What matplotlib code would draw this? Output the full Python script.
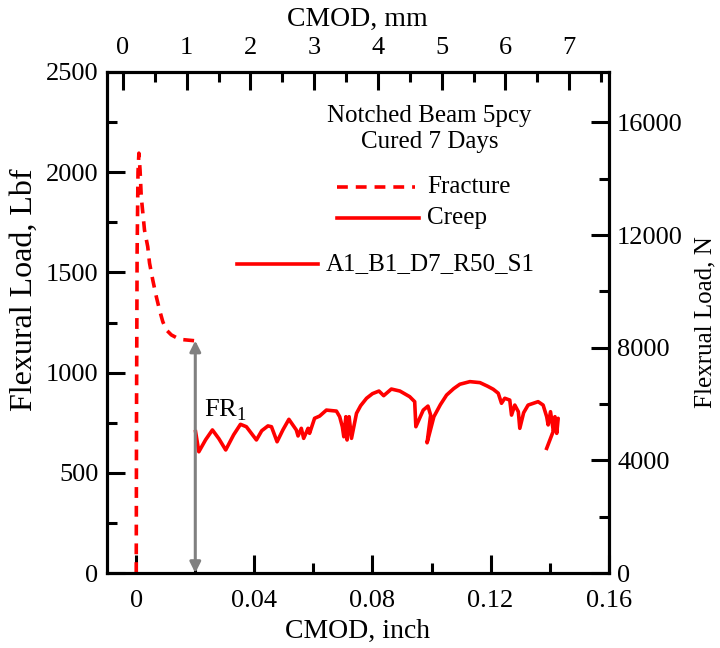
import matplotlib
matplotlib.use("Agg")
import matplotlib.pyplot as plt
from matplotlib.ticker import MultipleLocator, FuncFormatter

plt.rcParams['font.family'] = ['Liberation Serif', 'DejaVu Serif']
plt.rcParams['mathtext.fontset'] = 'custom'
plt.rcParams['mathtext.rm'] = 'Liberation Serif'

# fracture (monotonic) part, CMOD in inch vs load in lbf
frac_x = [0.0, 0.0001, 0.0003, 0.0006, 0.0009, 0.0013, 0.0017, 0.0028, 0.0039,
          0.0045, 0.0056, 0.0068, 0.0079, 0.0090, 0.0102, 0.0119, 0.0147,
          0.0169, 0.0198]
frac_y = [0, 800, 1600, 2000, 2095, 2010, 1878, 1711, 1628,
          1547, 1462, 1379, 1312, 1254, 1213, 1188, 1166,
          1163, 1159]

# creep cycles
creep_x = [0.0201, 0.0212, 0.0235, 0.0258, 0.0280, 0.0303, 0.0330, 0.0353, 0.0373,
           0.0407, 0.0425, 0.0446, 0.0458, 0.0477, 0.0497, 0.0517, 0.0542,
           0.0548, 0.0559, 0.0567, 0.0582, 0.0587, 0.0604, 0.0621, 0.0644,
           0.0678, 0.0689, 0.0698, 0.0703, 0.0710, 0.0714, 0.0721, 0.0729,
           0.0746, 0.0760, 0.0780, 0.0800, 0.0822, 0.0838, 0.0864, 0.0893,
           0.0926, 0.0943, 0.0947, 0.0972, 0.0988, 0.0997, 0.0985, 0.1008,
           0.1030, 0.1051, 0.1075, 0.1096, 0.1130, 0.1164, 0.1190, 0.1209,
           0.1226, 0.1237, 0.1248, 0.1265, 0.1271, 0.1282, 0.1294, 0.1299,
           0.1312, 0.1327, 0.1361, 0.1378, 0.1390, 0.1395, 0.1403, 0.1412,
           0.1418, 0.1424, 0.1429, 0.1390]
creep_y = [705, 605, 665, 714, 670, 614, 690, 742, 730,
           664, 710, 734, 730, 655, 715, 767, 714,
           684, 722, 672, 722, 697, 772, 783, 813,
           808, 780, 730, 680, 780, 664, 780, 672,
           797, 835, 872, 895, 908, 885, 918, 908,
           880, 855, 730, 813, 833, 788, 650, 780,
           840, 888, 920, 942, 955, 950, 932, 917,
           897, 847, 872, 863, 788, 838, 805, 722,
           800, 838, 855, 838, 780, 739, 805, 714,
           780, 697, 772, 622]

fr_x = 0.02
fr_load = 1160

red = '#ff0000'
lw_axis = 2.2
lw_data = 2.6

fig = plt.figure(figsize=(7.2, 6.48), dpi=100)
ax = fig.add_axes([0.1482, 0.1157, 0.6972, 0.7732])

ax.plot(frac_x, frac_y, color=red, lw=lw_data, dashes=(3.0, 2.2), zorder=3)
ax.plot(creep_x, creep_y, color=red, lw=lw_data, zorder=3)
ax.annotate('', xy=(fr_x, 0), xytext=(fr_x, fr_load),
            arrowprops=dict(arrowstyle='<|-|>', color='#808080', lw=2.2,
                            mutation_scale=16, shrinkA=0, shrinkB=0))
ax.text(0.0230, 810, 'FR$_\\mathregular{1}$', fontsize=19, va='center', ha='left')

ax.set_xlim(-0.01, 0.16)
ax.set_ylim(0, 2500)
ax.xaxis.set_major_locator(MultipleLocator(0.04))
ax.xaxis.set_minor_locator(MultipleLocator(0.02))
ax.yaxis.set_major_locator(MultipleLocator(500))
ax.yaxis.set_minor_locator(MultipleLocator(250))
ax.xaxis.set_major_formatter(FuncFormatter(lambda v, p: f'{v:g}'))
ax.set_xlabel('CMOD, inch', fontsize=20, labelpad=5)
ax.set_ylabel('Flexural Load, Lbf', fontsize=23)
ax.yaxis.set_label_coords(-0.135, 0.565)

# second scales: mm on top, N on the right
top = ax.twiny()
top.set_xlim(-0.01 * 25.4, 0.30 * 25.4)
top.xaxis.set_major_locator(MultipleLocator(1))
top.xaxis.set_minor_locator(MultipleLocator(0.5))
top.set_xlabel('CMOD, mm', fontsize=20, labelpad=8)

right = ax.twinx()
right.set_ylim(0, 4000 * 4.448)
right.yaxis.set_major_locator(MultipleLocator(4000))
right.yaxis.set_minor_locator(MultipleLocator(2000))
right.set_ylabel('Flexrual Load, N', fontsize=18, labelpad=8)

for a in (ax, top, right):
    for s in a.spines.values():
        s.set_linewidth(lw_axis)
    a.tick_params(which='major', direction='in', length=13, width=lw_axis,
                  labelsize=19, pad=6)
    a.tick_params(which='minor', direction='in', length=7, width=lw_axis)
ax.tick_params(axis='x', which='major', pad=12)
top.tick_params(axis='x', which='major', pad=9)

# legend block drawn as plain lines and text
ax.text(0.0994, 2215, 'Notched Beam 5pcy\nCured 7 Days', fontsize=18,
        ha='center', va='center', linespacing=1.25)
ax.plot([0.0679, 0.0943], [1928, 1928], color=red, lw=lw_data, dashes=(3.0, 2.2))
ax.text(0.0984, 1928, 'Fracture', fontsize=18, va='center')
ax.plot([0.0679, 0.0957], [1771, 1771], color=red, lw=lw_data)
ax.text(0.0984, 1771, 'Creep', fontsize=18, va='center')
ax.plot([0.0340, 0.0615], [1542, 1542], color=red, lw=lw_data)
ax.text(0.0642, 1542, 'A1_B1_D7_R50_S1', fontsize=18, va='center')

fig.savefig('out.png', dpi=100)
